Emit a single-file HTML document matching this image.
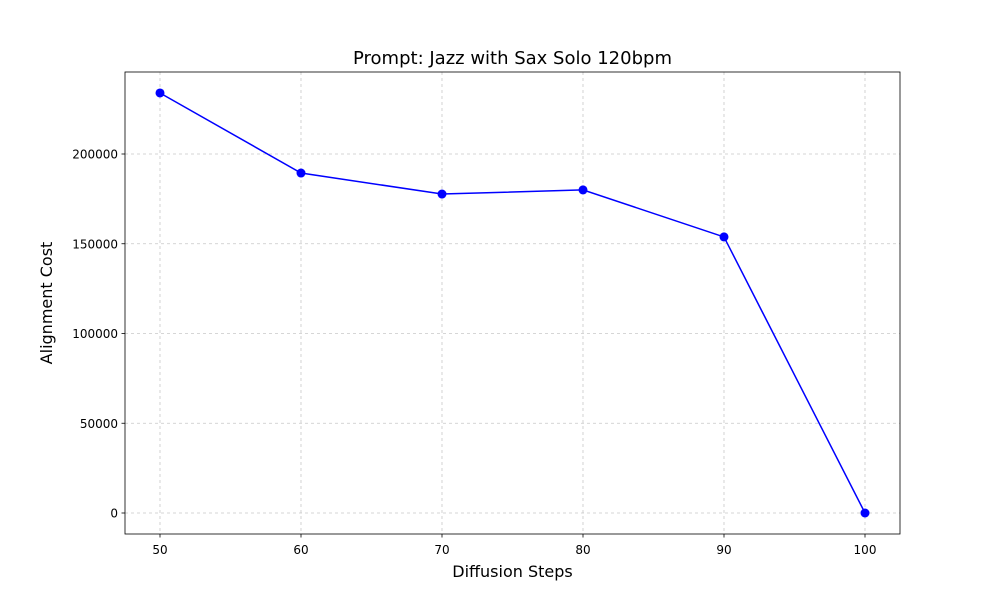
<!DOCTYPE html>
<html><head><meta charset="utf-8"><style>
body{margin:0;background:#fff;font-family:"Liberation Sans","DejaVu Sans",sans-serif;}
svg text{font-family:"DejaVu Sans","Liberation Sans",sans-serif;}
</style></head><body>
<svg id="chart" width="1000" height="600" xmlns="http://www.w3.org/2000/svg">
<rect width="1000" height="600" fill="#fff"/>
<g id="grid"></g>
<g id="ticks"></g>
<polyline id="line" fill="none" stroke="#0000ff" stroke-width="1.5"/>
<g id="points"></g>
<rect x="125" y="72" width="775" height="462" fill="none" stroke="#000" stroke-width="0.8"/>
<text x="512.5" y="64" text-anchor="middle" font-size="18">Prompt: Jazz with Sax Solo 120bpm</text>
<text x="512.5" y="577" text-anchor="middle" font-size="16">Diffusion Steps</text>
<text transform="translate(52,303) rotate(-90)" text-anchor="middle" font-size="16">Alignment Cost</text>
</svg>
<script>
const steps=[50,60,70,80,90,100];
const costs=[234000,189400,177700,180000,153800,0];
const xTicks=[50,60,70,80,90,100];
const yTicks=[0,50000,100000,150000,200000];
const NS="http://www.w3.org/2000/svg";
function xs(v){return 160+(v-50)*(865-160)/50;}
function ys(v){return 513-v*(513-154)/200000;}
const grid=document.getElementById('grid'),ticks=document.getElementById('ticks'),pts=document.getElementById('points');
function mk(tag,attrs,parent){const e=document.createElementNS(NS,tag);for(const k in attrs)e.setAttribute(k,attrs[k]);parent.appendChild(e);return e;}
xTicks.forEach(t=>{const x=xs(t);
 const g=mk('line',{x1:x,x2:x,y1:72,y2:534,stroke:'#b0b0b0','stroke-width':0.8,'stroke-dasharray':'3,3','stroke-opacity':0.7},grid);
 
 
 mk('line',{x1:x,x2:x,y1:534,y2:537.5,stroke:'#000','stroke-width':0.8},ticks);
 const tx=mk('text',{x:x,y:554,'text-anchor':'middle','font-size':12},ticks);tx.textContent=t;
 
 
});
yTicks.forEach(t=>{const y=ys(t);
 const g=mk('line',{x1:125,x2:900,y1:y,y2:y,stroke:'#b0b0b0','stroke-width':0.8,'stroke-dasharray':'3,3','stroke-opacity':0.7},grid);
 
 
 mk('line',{x1:121.5,x2:125,y1:y,y2:y,stroke:'#000','stroke-width':0.8},ticks);
 const tx=mk('text',{x:118,y:y+4.5,'text-anchor':'end','font-size':12},ticks);tx.textContent=t;
 
 
});
document.getElementById('line').setAttribute('points',steps.map((s,i)=>xs(s)+','+ys(costs[i])).join(' '));
steps.forEach((s,i)=>{const c=mk('circle',{cx:xs(s),cy:ys(costs[i]),r:4.5,fill:'#0000ff'},pts);
 
 
});
</script>
</body></html>
